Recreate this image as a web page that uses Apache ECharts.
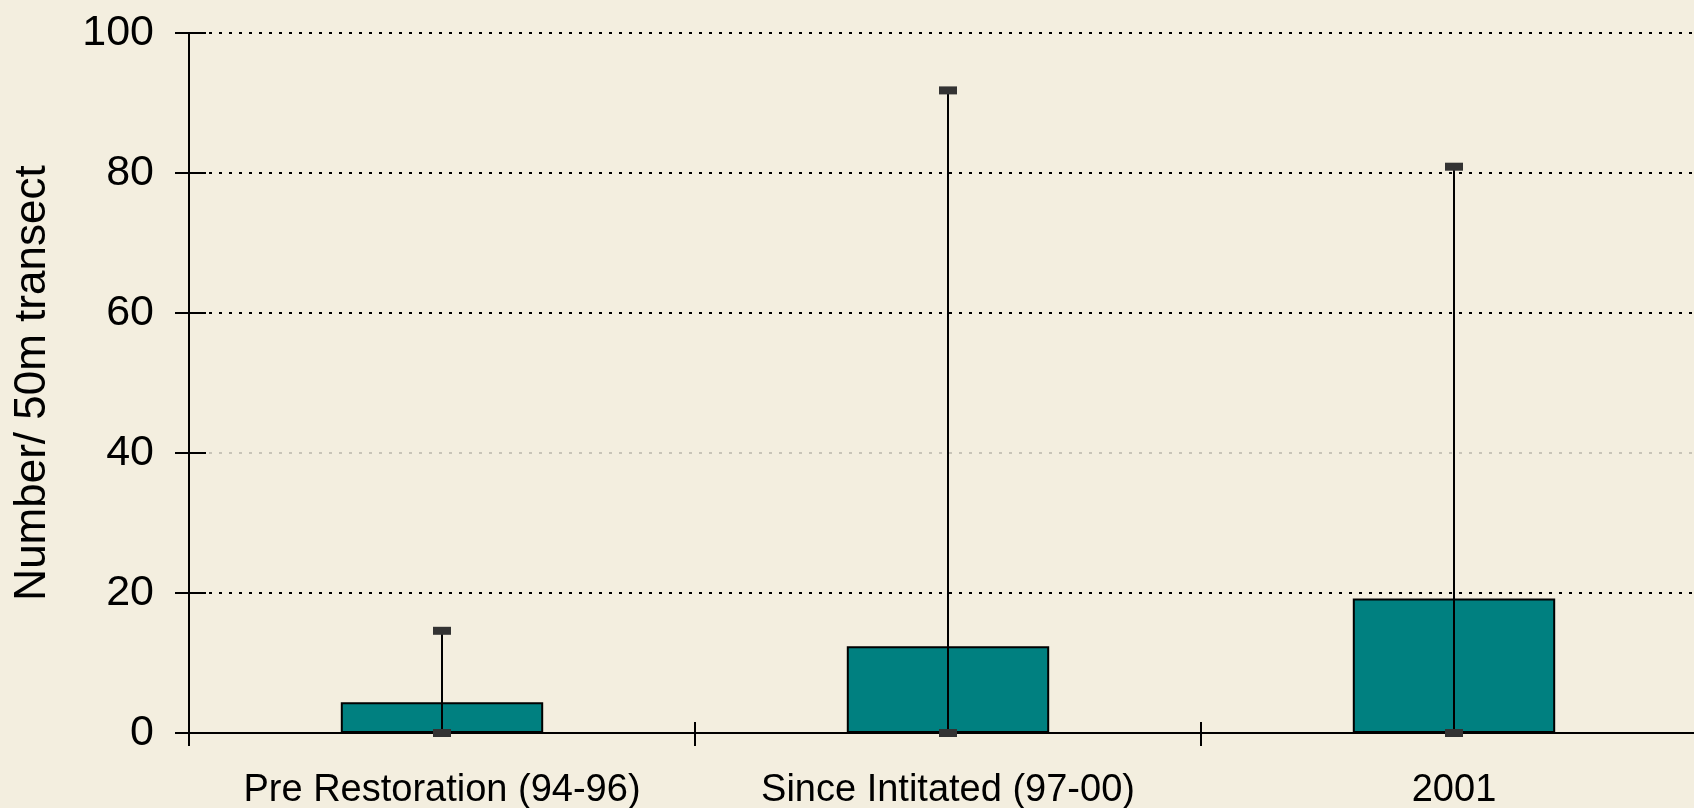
<!DOCTYPE html>
<html>
<head>
<meta charset="utf-8">
<script src="https://cdn.jsdelivr.net/npm/echarts@6/dist/echarts.min.js"></script>
<style>
  html, body { margin: 0; padding: 0; background: #f3eedf; }
  #chart { width: 1694px; height: 808px; }
</style>
</head>
<body>
<div id="chart"></div>
<script>
// data
var categories = ["Pre Restoration (94-96)", "Since Intitated (97-00)", "2001"];
var means = [4.4, 12.4, 19.2];
var errLow = [0, 0, 0];
var errHigh = [14.6, 91.8, 80.9];
var yTicks = [0, 20, 40, 60, 80, 100];

var font = "'Liberation Sans', Arial, sans-serif";
var chart = echarts.init(document.getElementById("chart"));

var errData = categories.map(function (c, i) {
  return [i, errLow[i], errHigh[i]];
});

// one grid line (at 40) is faint grey, the others black dotted
var gridColors = yTicks.map(function (v) {
  return v === 40 ? "#c8c4b8" : "#000";
});

var option = {
  backgroundColor: "#f3eedf",
  animation: false,
  grid: {
    left: 189,
    right: -13,
    top: 33,
    bottom: 75,
    containLabel: false,
    outerBoundsMode: "none",
  },
  xAxis: [
    {
      type: "category",
      data: categories,
      boundaryGap: true,
      axisLine: { lineStyle: { color: "#000", width: 2 } },
      axisTick: { show: true, length: 13, lineStyle: { color: "#000", width: 2 } },
      axisLabel: {
        interval: 0,
        color: "#000",
        fontSize: 38,
        fontFamily: font,
        margin: 39,
      },
    },
    {
      type: "category",
      data: categories,
      position: "bottom",
      boundaryGap: true,
      axisLine: { show: false },
      axisTick: { show: true, inside: true, length: 11, lineStyle: { color: "#000", width: 2 } },
      axisLabel: { show: false },
    },
  ],
  yAxis: [
    {
      type: "value",
      min: 0,
      max: 100,
      interval: 20,
      name: "Number/ 50m transect",
      nameLocation: "middle",
      nameGap: 134,
      nameTextStyle: { color: "#000", fontSize: 44, fontFamily: font },
      axisLine: { show: true, lineStyle: { color: "#000", width: 2 } },
      axisTick: { show: true, length: 14, lineStyle: { color: "#000", width: 2 } },
      axisLabel: {
        color: "#000",
        fontSize: 43,
        fontFamily: font,
        margin: 35,
      },
      splitLine: {
        show: true,
        lineStyle: { color: gridColors, width: 2, type: [3, 7] },
      },
    },
    {
      type: "value",
      min: 0,
      max: 100,
      interval: 20,
      position: "left",
      axisLine: { show: false },
      axisTick: { show: true, inside: true, length: 17, lineStyle: { color: "#000", width: 2 } },
      axisLabel: { show: false },
      splitLine: { show: false },
    },
  ],
  series: [
    {
      type: "bar",
      data: means,
      barWidth: "40%",
      itemStyle: {
        color: "#008080",
        borderColor: "#000",
        borderWidth: 2,
      },
      z: 3,
    },
    {
      type: "custom",
      data: errData,
      clip: false,
      z: 5,
      renderItem: function (params, api) {
        var x = api.value(0);
        var lo = api.coord([x, api.value(1)]);
        var hi = api.coord([x, api.value(2)]);
        var capW = 18,
          capH = 8;
        return {
          type: "group",
          children: [
            {
              type: "line",
              shape: { x1: lo[0], y1: lo[1], x2: hi[0], y2: hi[1] },
              style: { stroke: "#000", lineWidth: 2 },
            },
            {
              type: "rect",
              shape: { x: hi[0] - capW / 2, y: hi[1] - capH / 2, width: capW, height: capH },
              style: { fill: "#333" },
            },
            {
              type: "rect",
              shape: { x: lo[0] - capW / 2, y: lo[1] - capH / 2, width: capW, height: capH },
              style: { fill: "#333" },
            },
          ],
        };
      },
    },
  ],
};

chart.setOption(option);
</script>
</body>
</html>
